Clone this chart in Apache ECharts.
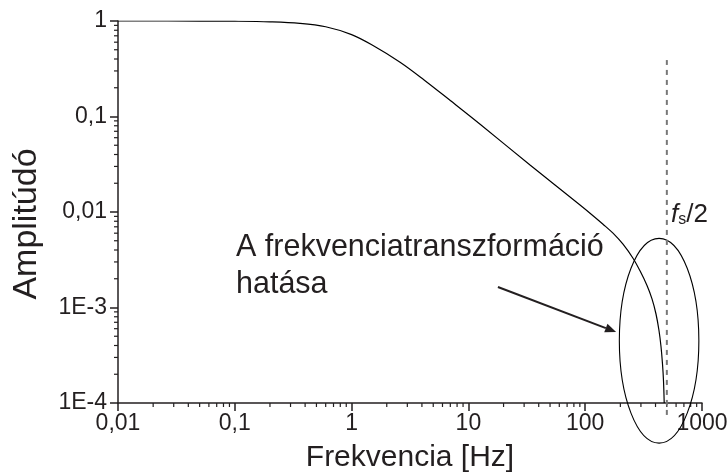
<!DOCTYPE html>
<html>
<head>
<meta charset="utf-8">
<script src="https://cdn.jsdelivr.net/npm/echarts@6/dist/echarts.min.js"></script>
<style>
  html, body { margin: 0; padding: 0; background: #fff; }
  #chart { width: 728px; height: 475px; }
</style>
</head>
<body>
<div id="chart"></div>
<script>
  // amplitude response
  var freq = [0.01, 0.05, 0.1, 0.2, 0.36, 0.6, 1.0, 1.5, 2.6, 4.2, 7, 12.6, 33.7, 90.3, 116.7, 142.1, 173, 210.7, 256.6, 294.6, 338.2, 373.2, 403.8, 428.3, 445.6, 459, 468.2, 474.7];
  var amp = [1, 0.999, 0.995, 0.98, 0.945, 0.87, 0.72, 0.56, 0.37, 0.24, 0.147, 0.083, 0.031, 0.01184, 0.00915, 0.00745, 0.006, 0.0046, 0.00328, 0.00242, 0.0017, 0.00123, 0.000855, 0.000574, 0.00039, 0.000256, 0.00017, 0.0001];

  var xTicks = [0.01, 0.1, 1, 10, 100, 1000];
  var xTickLabels = ['0,01', '0,1', '1', '10', '100', '1000'];
  var yTicks = [0.0001, 0.001, 0.01, 0.1, 1];
  var yTickLabels = ['1E-4', '1E-3', '0,01', '0,1', '1'];
  var minorMult = [2, 3, 4, 5, 6, 7, 8, 9];

  // fs/2 marker and annotation
  var nyquist = 500;
  var nyquistSpan = [0.000075, 0.39];
  var ellipseBox = [196, 940, 0.0053, 0.000038]; // f left, f right, A top, A bottom
  var arrowFrom = [17.9, 0.00164];
  var arrowTo = [184, 0.000554];

  var ink = '#231f20';
  var font = '"Liberation Sans", Arial, sans-serif';

  var xMinor = [];
  xTicks.slice(0, -1).forEach(function (d) {
    minorMult.forEach(function (m) { xMinor.push([d * m, yTicks[0]]); });
  });
  var yMinor = [];
  yTicks.slice(0, -1).forEach(function (d) {
    minorMult.forEach(function (m) { yMinor.push([xTicks[0], d * m]); });
  });

  function tickLabel(ticks, labels) {
    return function (v) {
      var e = Math.round(Math.log10(v));
      for (var i = 0; i < ticks.length; i++) {
        if (Math.round(Math.log10(ticks[i])) === e) return labels[i];
      }
      return '';
    };
  }

  var chart = echarts.init(document.getElementById('chart'));

  var option = {
    backgroundColor: '#fff',
    animation: false,
    grid: { left: 118, right: 26, top: 21, bottom: 72, outerBoundsMode: 'none', containLabel: false },
    xAxis: {
      type: 'log',
      logBase: 10,
      min: 0.01,
      max: 1000,
      splitNumber: 5,
      name: 'Frekvencia [Hz]',
      nameLocation: 'middle',
      nameGap: 40,
      nameTextStyle: { fontFamily: font, fontSize: 30, color: ink, verticalAlign: 'top' },
      axisLine: { lineStyle: { color: ink, width: 1.5 } },
      axisTick: { length: 8, lineStyle: { color: ink, width: 1.5 } },
      axisLabel: {
        formatter: tickLabel(xTicks, xTickLabels),
        fontFamily: font, fontSize: 23, color: ink, margin: 9
      },
      splitLine: { show: false }
    },
    yAxis: {
      type: 'log',
      logBase: 10,
      min: 0.0001,
      max: 1,
      splitNumber: 4,
      name: 'Amplitúdó',
      nameLocation: 'middle',
      nameGap: 74,
      nameTextStyle: { fontFamily: font, fontSize: 34, color: ink, padding: [0, 24, 0, 0] },
      axisLine: { lineStyle: { color: ink, width: 1.5 } },
      axisTick: { length: 8, lineStyle: { color: ink, width: 1.5 } },
      axisLabel: {
        formatter: tickLabel(yTicks, yTickLabels),
        fontFamily: font, fontSize: 23, color: ink, margin: 11
      },
      splitLine: { show: false }
    },
    series: [
      {
        type: 'line',
        data: freq.map(function (f, i) { return [f, amp[i]]; }),
        smooth: 0.35,
        showSymbol: false,
        lineStyle: { color: '#000', width: 1.2 },
        z: 5
      },
      {
        type: 'line',
        data: [[nyquist, nyquistSpan[0]], [nyquist, nyquistSpan[1]]],
        clip: false,
        showSymbol: false,
        lineStyle: { color: '#777', width: 2, type: [5, 5] },
        z: 4
      },
      {
        // x minor ticks
        type: 'custom',
        data: xMinor,
        renderItem: function (params, api) {
          var p = api.coord([api.value(0), api.value(1)]);
          return {
            type: 'line',
            shape: { x1: p[0], y1: p[1], x2: p[0], y2: p[1] + 4 },
            style: { stroke: ink, lineWidth: 1.2 }
          };
        }
      },
      {
        // y minor ticks
        type: 'custom',
        data: yMinor,
        renderItem: function (params, api) {
          var p = api.coord([api.value(0), api.value(1)]);
          return {
            type: 'line',
            shape: { x1: p[0] - 4, y1: p[1], x2: p[0], y2: p[1] },
            style: { stroke: ink, lineWidth: 1.2 }
          };
        }
      },
      {
        // ellipse round the warped part
        type: 'custom',
        data: [ellipseBox],
        encode: { x: [0, 1], y: [2, 3] },
        renderItem: function (params, api) {
          var a = api.coord([api.value(0), api.value(2)]);
          var b = api.coord([api.value(1), api.value(3)]);
          return {
            type: 'ellipse',
            shape: { cx: (a[0] + b[0]) / 2, cy: (a[1] + b[1]) / 2, rx: Math.abs(b[0] - a[0]) / 2, ry: Math.abs(b[1] - a[1]) / 2 },
            style: { stroke: '#000', fill: null, lineWidth: 1.1 }
          };
        }
      },
      {
        // arrow
        type: 'custom',
        data: [[arrowFrom[0], arrowFrom[1], arrowTo[0], arrowTo[1]]],
        encode: { x: [0, 2], y: [1, 3] },
        renderItem: function (params, api) {
          var s = api.coord([api.value(0), api.value(1)]);
          var e = api.coord([api.value(2), api.value(3)]);
          var ang = Math.atan2(e[1] - s[1], e[0] - s[0]);
          var L = 11, W = 4.5;
          var bx = e[0] - L * Math.cos(ang), by = e[1] - L * Math.sin(ang);
          var nx = -Math.sin(ang) * W, ny = Math.cos(ang) * W;
          return {
            type: 'group',
            children: [
              { type: 'line', shape: { x1: s[0], y1: s[1], x2: bx, y2: by }, style: { stroke: ink, lineWidth: 2 } },
              { type: 'polygon', shape: { points: [[e[0], e[1]], [bx + nx, by + ny], [bx - nx, by - ny]] }, style: { fill: ink } }
            ]
          };
        }
      }
    ],
    graphic: [
      {
        type: 'text', left: 236, top: 229,
        style: { text: 'A frekvenciatranszformáció\nhatása', font: '30.5px ' + font, fill: ink, lineHeight: 37 }
      },
      {
        type: 'text', left: 671, top: 202,
        style: {
          text: '{f|f}{s|s}{n|/2}',
          rich: {
            f: { fontFamily: font, fontStyle: 'italic', fontSize: 26, fill: ink, verticalAlign: 'bottom' },
            s: { fontFamily: font, fontSize: 16, fill: ink, verticalAlign: 'bottom', padding: [14, 0, 0, 0] },
            n: { fontFamily: font, fontSize: 26, fill: ink, verticalAlign: 'bottom' }
          }
        }
      }
    ]
  };

  chart.setOption(option);
</script>
</body>
</html>
